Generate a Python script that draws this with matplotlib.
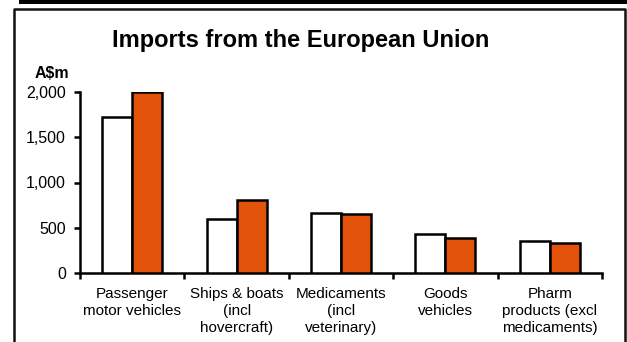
import matplotlib
matplotlib.use("Agg")
import matplotlib.pyplot as plt
from matplotlib.lines import Line2D
from matplotlib.patches import Rectangle
import numpy as np

plt.rcParams['font.family'] = ['Liberation Sans', 'DejaVu Sans']

categories = ["Passenger\nmotor vehicles", "Ships & boats\n(incl\nhovercraft)",
              "Medicaments\n(incl\nveterinary)", "Goods\nvehicles",
              "Pharm\nproducts (excl\nmedicaments)"]
series_earlier = [1720, 600, 660, 432, 352]
series_later = [2000, 810, 650, 392, 328]
yticks = [0, 500, 1000, 1500, 2000]
ytick_labels = ["0", "500", "1,000", "1,500", "2,000"]

W, H = 627, 342
fig = plt.figure(figsize=(W / 100, H / 100), dpi=100)
ax = fig.add_axes([80 / W, (H - 273) / H, (602 - 80) / W, (273 - 92) / H])

x = np.arange(len(categories))
bw = 0.287
ax.bar(x - bw / 2, series_earlier, bw, color="white", edgecolor="black", linewidth=1.8, zorder=3)
ax.bar(x + bw / 2, series_later, bw, color="#E2520A", edgecolor="black", linewidth=1.8, zorder=3)

ax.set_xlim(-0.5, len(categories) - 0.5)
ax.set_ylim(0, 2000)
ax.set_yticks(yticks)
ax.set_yticklabels(ytick_labels)
ax.set_xticks(x)
ax.set_xticklabels(categories, linespacing=1.3)
ax.set_xticks(np.arange(len(categories) + 1) - 0.5, minor=True)
ax.tick_params(axis='x', which='major', length=0, pad=10, labelsize=11)
ax.tick_params(axis='x', which='minor', length=4, width=1.8, direction='out')
ax.tick_params(axis='y', length=4, width=1.8, direction='out', pad=6, labelsize=11.5)

for s in ['top', 'right']:
    ax.spines[s].set_visible(False)
for s in ['left', 'bottom']:
    ax.spines[s].set_linewidth(1.8)

fig.text(301 / W, 1 - 40 / H, "Imports from the European Union", ha='center', va='center',
         fontsize=17, fontweight='bold')
fig.text(52 / W, 1 - 74 / H, "A\\$m", ha='center', va='center', fontsize=11.5, fontweight='bold')

# top black bar and frame
fig.patches.append(Rectangle((19 / W, 1 - 4 / H), 1 - 19 / W, 4 / H, transform=fig.transFigure,
                             facecolor='black', edgecolor='none'))
fig.lines.append(Line2D([14 / W, 14 / W, 625 / W, 625 / W], [0, 1 - 9 / H, 1 - 9 / H, 0],
                        transform=fig.transFigure, color='#111111', linewidth=1.8))

fig.savefig("out.png", dpi=100)
